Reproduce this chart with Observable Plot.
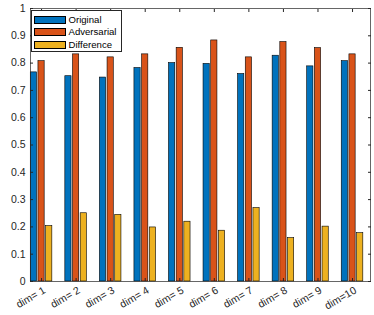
<!DOCTYPE html>
<html><head><meta charset="utf-8">
<script src="https://cdn.jsdelivr.net/npm/d3@7"></script>
<script src="https://cdn.jsdelivr.net/npm/@observablehq/plot@0.6"></script>
<style>
body{margin:0;background:#fff;}
#wrap{position:relative;width:374px;height:315px;font-family:"Liberation Sans",Arial,sans-serif;}
#legend{position:absolute;left:31px;top:10px;width:91px;height:42px;border:1px solid #262626;background:#fff;font-size:9.6px;color:#000;box-sizing:border-box;}
.row{position:absolute;left:1.5px;height:12px;}
.sw{position:absolute;left:0;top:2px;width:32px;height:8px;border:0.7px solid #000;box-sizing:border-box;}
.lab{position:absolute;left:35px;top:0;line-height:12px;white-space:nowrap;}
</style>
</head><body>
<div id="wrap"><div id="legend"></div></div>
<script>
const categories = ["dim= 1","dim= 2","dim= 3","dim= 4","dim= 5","dim= 6","dim= 7","dim= 8","dim= 9","dim=10"];
const seriesNames = ["Original","Adversarial","Difference"];
const seriesColors = ["#0072BD","#D95319","#EDB120"];
const original    = [0.766,0.752,0.747,0.782,0.800,0.797,0.760,0.827,0.788,0.807];
const adversarial = [0.807,0.832,0.821,0.832,0.856,0.883,0.821,0.877,0.855,0.832];
const difference  = [0.203,0.250,0.244,0.198,0.219,0.186,0.269,0.159,0.201,0.177];
const yTicks = [0,0.1,0.2,0.3,0.4,0.5,0.6,0.7,0.8,0.9,1];

const seriesValues = [original, adversarial, difference];
const step = 0.222, bw = 0.18;
const rows = [];
seriesValues.forEach((vals, s) => vals.forEach((v, i) => {
  const c = i + 1 + (s - 1) * step;
  rows.push({x1: c - bw/2, x2: c + bw/2, value: v, series: seriesNames[s]});
}));
const xs = categories.map((d, i) => i + 1);
const font = `"Liberation Sans",Arial,sans-serif`;
const chart = Plot.plot({
  width: 374, height: 315,
  marginLeft: 30, marginRight: 4, marginTop: 8, marginBottom: 34,
  style: {fontFamily: font, fontSize: "10.5px", color: "#262626", background: "#fff"},
  x: {type: "linear", domain: [0.68, 10.52]},
  y: {domain: [0, 1]},
  color: {domain: seriesNames, range: seriesColors},
  marks: [
    Plot.rectY(rows, {x1: "x1", x2: "x2", y1: 0, y2: "value", fill: "series", stroke: "#000", strokeWidth: 0.6}),
    Plot.frame({stroke: "#262626", strokeWidth: 0.7}),
    Plot.axisY(yTicks, {anchor: "left", tickSize: 0, tickPadding: 5, label: null, tickFormat: d => d3.format("~g")(d), fill: "#262626"}),
    Plot.axisY(yTicks, {anchor: "left", tickSize: 3, dx: 3, tickFormat: () => "", label: null, stroke: "#262626"}),
    Plot.axisY(yTicks, {anchor: "right", tickSize: 3, dx: -3, tickFormat: () => "", label: null, stroke: "#262626"}),
    Plot.axisX(xs, {anchor: "bottom", tickSize: 0, tickPadding: 8, dx: 3, tickRotate: -30, tickFormat: d => categories[d-1], label: null, fill: "#262626"}),
    Plot.axisX(xs, {anchor: "bottom", tickSize: 3, dy: -3, tickFormat: () => "", label: null, stroke: "#262626"}),
    Plot.axisX(xs, {anchor: "top", tickSize: 3, dy: 3, tickFormat: () => "", label: null, stroke: "#262626"})
  ]
});
document.getElementById("wrap").prepend(chart);
const lg = document.getElementById("legend");
seriesNames.forEach((n, i) => {
  const r = document.createElement("div");
  r.className = "row";
  r.style.top = (2.5 + i * 12.5) + "px";
  r.innerHTML = `<div class="sw" style="background:${seriesColors[i]}"></div><div class="lab">${n}</div>`;
  lg.appendChild(r);
});
</script>
</body></html>
